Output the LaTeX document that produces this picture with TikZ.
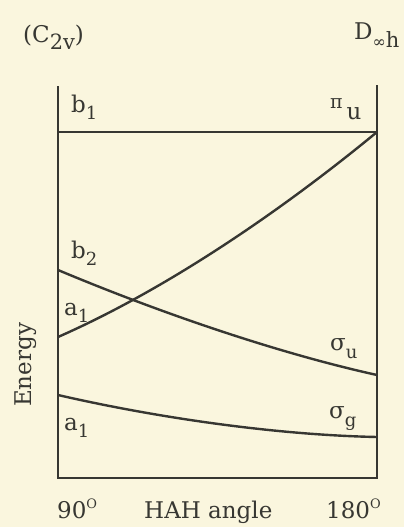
\documentclass[tikz,border=0pt]{standalone}
\usepackage{fontspec}
\setmainfont{DejaVu Serif}
\usepackage{tikz}
\usetikzlibrary{positioning}
\definecolor{paper}{RGB}{250,246,222}
\definecolor{ink}{RGB}{55,55,50}
\newcommand{\lowered}[2][7pt]{\raisebox{-#1}{\fontsize{18}{18}\selectfont #2}}

\begin{document}
\begin{tikzpicture}[
    x=1pt,y=-1pt,
    frame/.style={draw=ink,line width=2.4pt},
    lvl/.style={draw=ink,line width=2.4pt},
    lbl/.style={text=ink,anchor=base west,inner sep=0pt,font=\fontsize{23}{28}\selectfont}
  ]
    \fill[paper] (0,0) rectangle (404,527);
    \useasboundingbox (0,0) rectangle (404,527);

    % frame of the diagram
    \coordinate (topL) at (58,86);
    \coordinate (botL) at (58,478);
    \coordinate (botR) at (377,478);
    \coordinate (topR) at (377,85);
    \draw[frame] (topL) -- (botL) -- (botR) -- (topR);

    % ends of the levels
    \coordinate (b1L) at (58,132);
    \coordinate (piU) at (377,132);
    \coordinate (b2L) at (58,270);
    \coordinate (sigU) at (377,375);
    \coordinate (a1upL) at (58,337);
    \coordinate (a1loL) at (58,395);
    \coordinate (sigG) at (377,437);

    \draw[lvl] (b1L) -- (piU);
    \draw[lvl] (a1upL) .. controls (165,290) and (280,212) .. (piU);
    \draw[lvl] (b2L) .. controls (158,312) and (277,353) .. (sigU);
    \draw[lvl] (a1loL) .. controls (158,418) and (277,435) .. (sigG);

    % labels
    \node[lbl] (c2v) at (23,42) {(C\lowered[8pt]{\fontsize{21}{21}\selectfont 2v})};
    \node[lbl] (dinfh) at (354,40) {D\lowered[8pt]{{\fontsize{16}{16}\selectfont ∞}\fontsize{21}{21}\selectfont h}};
    \node[lbl] (b1) at (71,112) {b\lowered{1}};
    \node[lbl] (piu) at (330,119) {\raisebox{11pt}{\fontsize{19}{19}\selectfont π}\,u};
    \node[lbl] (b2) at (71,258) {b\lowered{2}};
    \node[lbl] (a1up) at (64,315) {a\lowered{1}};
    \node[lbl] (sigu) at (330,350) {σ\lowered[8pt]{u}};
    \node[lbl] (a1lo) at (64,430) {a\lowered{1}};
    \node[lbl] (sigg) at (329,418) {σ\lowered[8pt]{g}};
    \node[lbl,rotate=90] (energy) at (31,407) {Energy};
    \node[lbl] (ninety) at (57,518) {90\raisebox{10pt}{\fontsize{13}{13}\selectfont O}};
    \node[lbl] (hah) at (144,518) {HAH angle};
    \node[lbl] (oneeighty) at (326,518) {180\raisebox{10pt}{\fontsize{13}{13}\selectfont O}};
\end{tikzpicture}
\end{document}
